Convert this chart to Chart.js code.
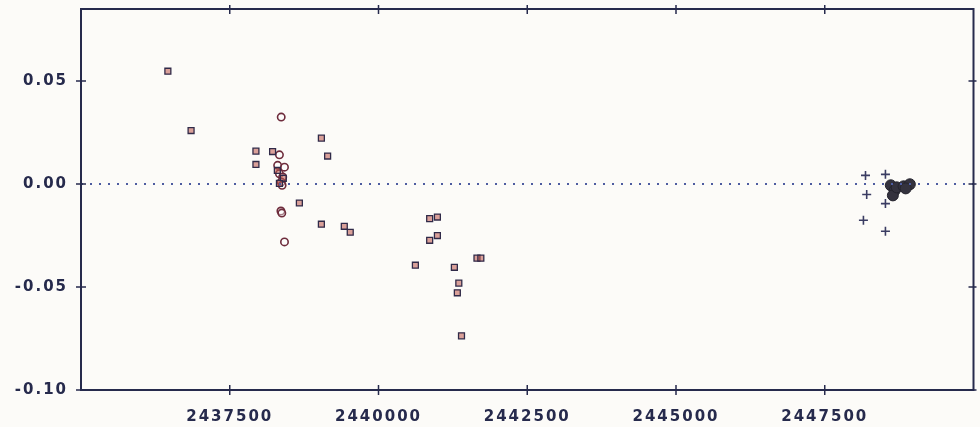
<!DOCTYPE html>
<html>
<head>
<meta charset="utf-8">
<script src="https://cdn.jsdelivr.net/npm/chart.js@4/dist/chart.umd.min.js"></script>
<style>
  html, body { margin: 0; background: #fcfbf8; }
</style>
</head>
<body>
<canvas id="oc" width="980" height="427"></canvas>
<script>
// O-C values (JD, days)
const squareJD = [2436460, 2436850, 2437940, 2437940, 2438220, 2438670, 2439040, 2439145, 2439040, 2439425,
  2439525, 2440860, 2440990, 2440990, 2440860, 2441655, 2441720, 2440620, 2441275, 2441350, 2441325, 2441395,
  2438300, 2438400, 2438335];
const squareOC = [0.0548, 0.0260, 0.0160, 0.0095, 0.0158, -0.0092, 0.0223, 0.0136, -0.0195, -0.0205,
  -0.0234, -0.0168, -0.0160, -0.0250, -0.0273, -0.0360, -0.0360, -0.0394, -0.0404, -0.0481, -0.0528, -0.0737,
  0.0066, 0.0028, 0.0003];

const circleJD = [2438365, 2438335, 2438305, 2438420, 2438335, 2438390, 2438365, 2438380, 2438360, 2438375, 2438420];
const circleOC = [0.0325, 0.0142, 0.0091, 0.0082, 0.0050, 0.0034, 0.0010, -0.0006, -0.0131, -0.0141, -0.0281];

const crossJD = [2448185, 2448520, 2448205, 2448520, 2448150, 2448520];
const crossOC = [0.0042, 0.0047, -0.0051, -0.0095, -0.0176, -0.0229];

const blobJD = [2448610, 2448675, 2448645, 2448710, 2448825, 2448930, 2448860];
const blobOC = [-0.0006, -0.0031, -0.0055, -0.0016, -0.0011, -0.0001, -0.0021];

const xTicks = [2437500, 2440000, 2442500, 2445000, 2447500];
const yTicks = [-0.10, -0.05, 0.00, 0.05];
const xMin = 2435000, xMax = 2450000;
const yMin = -0.10, yMax = 0.085;

const ink = '#262a4c';
const labelFont = { family: '"DejaVu Sans", Verdana, sans-serif', size: 15, weight: 'bold' };

const pts = (xs, ys) => xs.map((x, i) => ({ x: x, y: ys[i] }));

// frame with ticks crossing all four sides
const framePlugin = {
  id: 'frame',
  beforeDraw(chart) {
    chart.ctx.letterSpacing = '2px';
  },
  afterDatasetsDraw(chart) {
    const { ctx, chartArea: a, scales } = chart;
    ctx.save();
    ctx.strokeStyle = ink;
    ctx.lineWidth = 2;
    ctx.strokeRect(a.left, a.top, a.right - a.left, a.bottom - a.top);
    ctx.lineWidth = 1.5;
    ctx.beginPath();
    xTicks.forEach(v => {
      const px = scales.x.getPixelForValue(v);
      ctx.moveTo(px, a.bottom - 5); ctx.lineTo(px, a.bottom + 5);
      ctx.moveTo(px, a.top - 4); ctx.lineTo(px, a.top + 5);
    });
    yTicks.forEach(v => {
      const py = scales.y.getPixelForValue(v);
      ctx.moveTo(a.left - 5, py); ctx.lineTo(a.left + 5, py);
      ctx.moveTo(a.right - 5, py); ctx.lineTo(a.right + 3, py);
    });
    ctx.stroke();
    ctx.restore();
  }
};

new Chart(document.getElementById('oc').getContext('2d'), {
  type: 'scatter',
  data: {
    datasets: [
      {
        type: 'line',
        data: [{ x: xMin, y: 0 }, { x: xMax, y: 0 }],
        borderColor: '#4d5ca0',
        borderWidth: 2,
        borderDash: [2, 7],
        pointRadius: 0
      },
      {
        data: pts(squareJD, squareOC),
        pointStyle: 'rect',
        pointRadius: 4.2,
        borderWidth: 1.3,
        borderColor: '#302a48',
        backgroundColor: 'rgba(190, 85, 75, 0.55)'
      },
      {
        data: pts(circleJD, circleOC),
        pointStyle: 'circle',
        pointRadius: 3.7,
        borderWidth: 1.6,
        borderColor: '#6e2c3c',
        backgroundColor: 'rgba(255, 255, 255, 0.4)'
      },
      {
        data: pts(crossJD, crossOC),
        pointStyle: 'cross',
        pointRadius: 4.5,
        borderWidth: 1.6,
        borderColor: '#3a3c62'
      },
      {
        data: pts(blobJD, blobOC),
        pointStyle: 'circle',
        pointRadius: 5.5,
        borderWidth: 1,
        borderColor: '#25242e',
        backgroundColor: '#34323e'
      }
    ]
  },
  options: {
    responsive: false,
    animation: false,
    layout: { padding: { top: 9, right: 2, left: 0, bottom: 0 } },
    plugins: { legend: { display: false }, tooltip: { enabled: false } },
    scales: {
      x: {
        type: 'linear',
        min: xMin,
        max: xMax,
        afterBuildTicks: s => { s.ticks = xTicks.map(v => ({ value: v })); },
        afterFit: s => { s.height = 37; s.paddingLeft = 0; s.paddingRight = 0; },
        grid: { display: false, drawTicks: false },
        border: { display: false },
        ticks: {
          color: ink,
          font: labelFont,
          padding: 18,
          maxRotation: 0,
          autoSkip: false,
          callback: v => String(v)
        }
      },
      y: {
        min: yMin,
        max: yMax,
        afterBuildTicks: s => { s.ticks = yTicks.map(v => ({ value: v })); },
        afterFit: s => { s.width = 81; s.paddingTop = 0; s.paddingBottom = 0; },
        grid: { display: false, drawTicks: false },
        border: { display: false },
        ticks: {
          color: ink,
          font: labelFont,
          padding: 13,
          callback: v => v.toFixed(2)
        }
      }
    }
  },
  plugins: [framePlugin]
});
</script>
</body>
</html>
